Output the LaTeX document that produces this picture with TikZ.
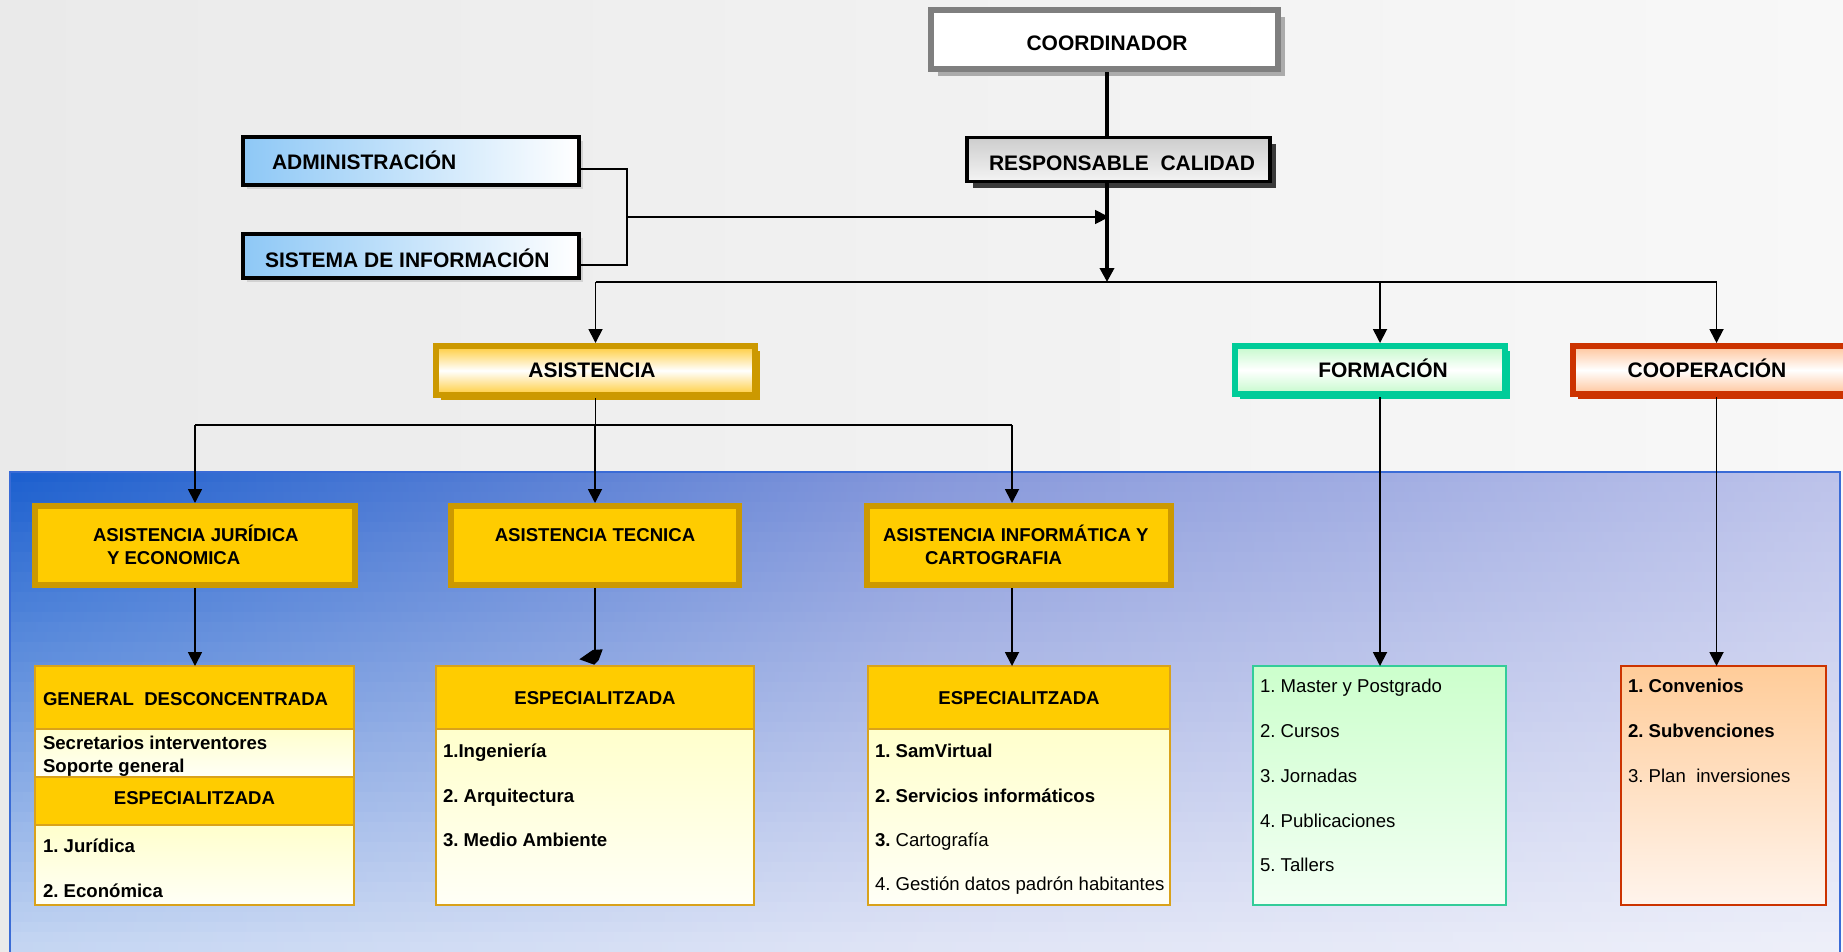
\documentclass[tikz,border=0pt]{standalone}
\usepackage{fontspec}
\setmainfont{Liberation Sans}
\usetikzlibrary{arrows.meta,shadows,calc}
\frenchspacing

% palette
\definecolor{bgl}{HTML}{EAEAEA}
\definecolor{bgr}{HTML}{F8F8F8}
\definecolor{coordgray}{HTML}{7F7F7F}
\definecolor{coordshadow}{HTML}{ABABAB}
\definecolor{resptop}{HTML}{CDCDCD}
\definecolor{respbot}{HTML}{F4F4F4}
\definecolor{respshadow}{HTML}{3A3A3A}
\definecolor{admblue}{HTML}{8EC8F6}
\definecolor{admshadow}{HTML}{D2D2D2}
\definecolor{goldline}{HTML}{CC9900}
\definecolor{goldtint}{HTML}{FFCC3A}
\definecolor{goldfill}{HTML}{FFCC00}
\definecolor{tealline}{HTML}{00CC99}
\definecolor{tealtint}{HTML}{C4FACB}
\definecolor{redline}{HTML}{CC3300}
\definecolor{redtint}{HTML}{FFC49A}
\definecolor{thinline}{HTML}{D9A21B}
\definecolor{paleyellow}{HTML}{FFFFCC}
\definecolor{paleend}{HTML}{FFFFF7}
\definecolor{greenline}{HTML}{33CC99}
\definecolor{palegreen}{HTML}{CCFFCC}
\definecolor{palegreenend}{HTML}{F3FFF4}
\definecolor{peach}{HTML}{FFCC99}
\definecolor{peachend}{HTML}{FFF4EC}
\definecolor{panelborder}{HTML}{3A6BD6}
\definecolor{pL}{HTML}{1A5ECE}
\definecolor{pM}{HTML}{8496DA}
\definecolor{pR}{HTML}{BCC2EA}

\begin{document}
\begin{tikzpicture}[x=1pt,y=-1pt,
  hfont/.style={font=\fontsize{21}{25}\selectfont\bfseries},
  pfont/.style={font=\fontsize{18.6}{22}\selectfont\bfseries},
  rfont/.style={font=\fontsize{18.6}{22}\selectfont},
  lab/.style={inner sep=0pt, outer sep=0pt},
  box/.style={rectangle, inner sep=0pt},
  coordbox/.style={box, draw=coordgray, line width=6pt, fill=white,
    drop shadow={shadow xshift=7pt, shadow yshift=-7pt, fill=coordshadow, opacity=1}},
  respbox/.style={box, draw=black, line width=3.5pt, top color=resptop, bottom color=respbot,
    drop shadow={shadow xshift=6pt, shadow yshift=-6pt, fill=respshadow, opacity=1}},
  admbox/.style={box, draw=black, line width=4pt, left color=admblue, right color=white,
    drop shadow={shadow xshift=4pt, shadow yshift=-4pt, fill=admshadow, opacity=1}},
  areabox/.style={box, line width=6pt, top color=#1, bottom color=#1, middle color=white},
  asistbox/.style={areabox=goldtint, draw=goldline,
    drop shadow={shadow xshift=4.5pt, shadow yshift=-4.5pt, fill=goldline, opacity=1}},
  formbox/.style={areabox=tealtint, draw=tealline,
    drop shadow={shadow xshift=4.5pt, shadow yshift=-4.5pt, fill=tealline, opacity=1}},
  coopbox/.style={areabox=redtint, draw=redline,
    drop shadow={shadow xshift=4.5pt, shadow yshift=-4.5pt, fill=redline, opacity=1}},
  unitbox/.style={box, draw=goldline, line width=6pt, fill=goldfill},
  sect/.style={box, draw=thinline, line width=2pt, outer sep=0pt, anchor=north west},
  hdr/.style={sect, fill=goldfill},
  itm/.style={sect, top color=paleyellow, bottom color=paleend},
  conn/.style={line width=1.8pt, draw=black},
  heavy/.style={line width=4pt, draw=black},
  arr/.style={-{Triangle[length=14pt,width=14pt]}}
]
\useasboundingbox (0,0) rectangle (1843,951);
\clip (0,0) rectangle (1843,951);

% backgrounds
\shade[left color=bgl, right color=bgr] (0,0) rectangle (1843,951);
% lower panel: blue at the upper left, fading to white towards the bottom right
\foreach \i in {0,...,47}{
  \pgfmathtruncatemacro\pct{100-1.55*(\i+0.5)}
  \shade[left color=pL!\pct!white, right color=pR!\pct!white, middle color=pM!\pct!white]
    (10,{472+10*\i}) rectangle (1840,{483+10*\i});
}
\draw[line width=2pt, panelborder] (10,960) -- (10,472) -- (1840,472) -- (1840,960);

% top of the hierarchy
\node[coordbox, minimum width=347pt, minimum height=59pt] (coord) at (1104.5,39.5) {};
\node[lab, hfont, anchor=base] (coordt) at (1107,50.5) {COORDINADOR};

\node[respbox, minimum width=303pt, minimum height=44pt] (resp) at (1118.5,159.5) {};
\node[lab, hfont, anchor=base] (respt) at (1122,170) {RESPONSABLE\ \ CALIDAD};

\node[admbox, minimum width=336pt, minimum height=48pt] (adm) at (411,161) {};
\node[lab, hfont, anchor=base west] (admt) at (272,169) {ADMINISTRACIÓN};

\node[admbox, minimum width=336pt, minimum height=44pt] (sis) at (411,256) {};
\node[lab, hfont, anchor=base west] (sist) at (265,267) {SISTEMA DE INFORMACIÓN};

% three areas
\node[asistbox, minimum width=319pt, minimum height=49pt] (asist) at (595.5,370.5) {};
\node[lab, hfont, anchor=base] (asistt) at (592,377) {ASISTENCIA};

\node[formbox, minimum width=270pt, minimum height=48pt] (form) at (1370,370) {};
\node[lab, hfont, anchor=base] (formt) at (1383,377) {FORMACIÓN};

\node[coopbox, minimum width=287pt, minimum height=48pt] (coop) at (1716.5,370) {};
\node[lab, hfont, anchor=base] (coopt) at (1707,377) {COOPERACIÓN};

% assistance units
\node[unitbox, minimum width=320pt, minimum height=79pt] (jur) at (195,545.5) {};
\node[lab, pfont, anchor=base west] (jurt1) at (93,541) {ASISTENCIA JURÍDICA};
\node[lab, pfont, anchor=base west] (jurt2) at (107,564) {Y ECONOMICA};

\node[unitbox, minimum width=288pt, minimum height=79pt] (tec) at (595,545.5) {};
\node[lab, pfont, anchor=base] (tect) at (595,541) {ASISTENCIA TECNICA};

\node[unitbox, minimum width=304pt, minimum height=79pt] (info) at (1019,545.5) {};
\node[lab, pfont, anchor=base west] (infot1) at (883,541) {ASISTENCIA INFORMÁTICA Y};
\node[lab, pfont, anchor=base west] (infot2) at (925,564) {CARTOGRAFIA};

% legal and economic unit
\node[hdr, minimum width=319pt, minimum height=63pt] (lgen) at (35,666) {};
\node[itm, minimum width=319pt, minimum height=48pt] (lsec) at (35,729) {};
\node[hdr, minimum width=319pt, minimum height=48pt] (lesp) at (35,777) {};
\node[itm, minimum width=319pt, minimum height=80pt] (litm) at (35,825) {};
\node[lab, pfont, anchor=base west] (lgent) at (43,705) {GENERAL\ \ DESCONCENTRADA};
\node[lab, pfont, anchor=base west] (lsec1) at (43,749) {Secretarios interventores};
\node[lab, pfont, anchor=base west] (lsec2) at (43,772) {Soporte general};
\node[lab, pfont, anchor=base] (lespt) at (194.5,804) {ESPECIALITZADA};
\node[lab, pfont, anchor=base west] (litm1) at (43,852) {1. Jurídica};
\node[lab, pfont, anchor=base west] (litm2) at (43,897) {2. Económica};

% technical unit
\node[hdr, minimum width=318pt, minimum height=63pt] (thdr) at (436,666) {};
\node[itm, minimum width=318pt, minimum height=176pt] (titm) at (436,729) {};
\node[lab, pfont, anchor=base] (thdrt) at (595,704) {ESPECIALITZADA};
\node[lab, pfont, anchor=base west] (titm1) at (443,757) {1.Ingeniería};
\node[lab, pfont, anchor=base west] (titm2) at (443,802) {2. Arquitectura};
\node[lab, pfont, anchor=base west] (titm3) at (443,846) {3. Medio Ambiente};

% IT and cartography unit
\node[hdr, minimum width=302pt, minimum height=63pt] (ihdr) at (868,666) {};
\node[itm, minimum width=302pt, minimum height=176pt] (iitm) at (868,729) {};
\node[lab, pfont, anchor=base] (ihdrt) at (1019,704) {ESPECIALITZADA};
\node[lab, pfont, anchor=base west] (iitm1) at (875,757) {1. SamVirtual};
\node[lab, pfont, anchor=base west] (iitm2) at (875,802) {2. Servicios informáticos};
\node[lab, rfont, anchor=base west] (iitm3) at (875,846) {{\bfseries 3.} Cartografía};
\node[lab, rfont, anchor=base west] (iitm4) at (875,890) {4. Gestión datos padrón habitantes};

% training list
\node[sect, draw=greenline, top color=palegreen, bottom color=palegreenend,
  minimum width=253pt, minimum height=239pt] (grn) at (1253,666) {};
\node[lab, rfont, anchor=base west] (grn1) at (1260,692) {1. Master y Postgrado};
\node[lab, rfont, anchor=base west] (grn2) at (1260,737) {2. Cursos};
\node[lab, rfont, anchor=base west] (grn3) at (1260,782) {3. Jornadas};
\node[lab, rfont, anchor=base west] (grn4) at (1260,827) {4. Publicaciones};
\node[lab, rfont, anchor=base west] (grn5) at (1260,871) {5. Tallers};

% cooperation list
\node[sect, draw=redline, top color=peach, bottom color=peachend,
  minimum width=205pt, minimum height=239pt] (red) at (1621,666) {};
\node[lab, pfont, anchor=base west] (red1) at (1628,692) {1. Convenios};
\node[lab, pfont, anchor=base west] (red2) at (1628,737) {2. Subvenciones};
\node[lab, rfont, anchor=base west] (red3) at (1628,782) {3. Plan\ \ inversiones};

% connectors
\coordinate (jn) at (1107,282);
\coordinate (br) at (627,217);
\coordinate (fx) at (1380,282);
\coordinate (b2) at (0,425);
\coordinate (ix) at (1012,0);

\draw[heavy] (coord.south -| jn) -- (resp.north -| jn);
\draw[heavy, arr] (resp.south -| jn) -- (jn);

\draw[conn] ($(adm.east)+(0,8)$) -| (br) |- ($(sis.east)+(0,9)$);
\draw[conn, arr] (br) -- ($(br -| jn)+(2,0)$);

\draw[conn] (asist.north |- jn) -- (coop.north |- jn);
\draw[conn, arr] (asist.north |- jn) -- (asist.north);
\draw[conn, arr] (fx) -- (fx |- form.north);
\draw[conn, arr] (coop.north |- jn) -- (coop.north);

\draw[conn] (asist.south) -- (asist.south |- b2);
\draw[conn] (jur.north |- b2) -- (ix |- b2);
\draw[conn, arr] (jur.north |- b2) -- (jur.north);
\draw[conn, arr] (tec.north |- b2) -- (tec.north);
\draw[conn, arr] (ix |- b2) -- (ix |- info.north);

\draw[conn, arr] (jur.south) -- (jur.south |- lgen.north);
\draw[conn] (tec.south) -- ($(thdr.north)+(0,-15)$);
\fill[shift={(thdr.north)}] (-15.7,-6.7) -- (-2.3,-16) -- (7.7,-16.7) -- (3.7,-6) -- (-0.7,-1.3) -- cycle;
\draw[conn, arr] (ix |- info.south) -- (ix |- ihdr.north);
\draw[conn, arr] (fx |- form.south) -- (fx |- grn.north);
\draw[conn, arr] (coop.south) -- (coop.south |- red.north);
\end{tikzpicture}
\end{document}
